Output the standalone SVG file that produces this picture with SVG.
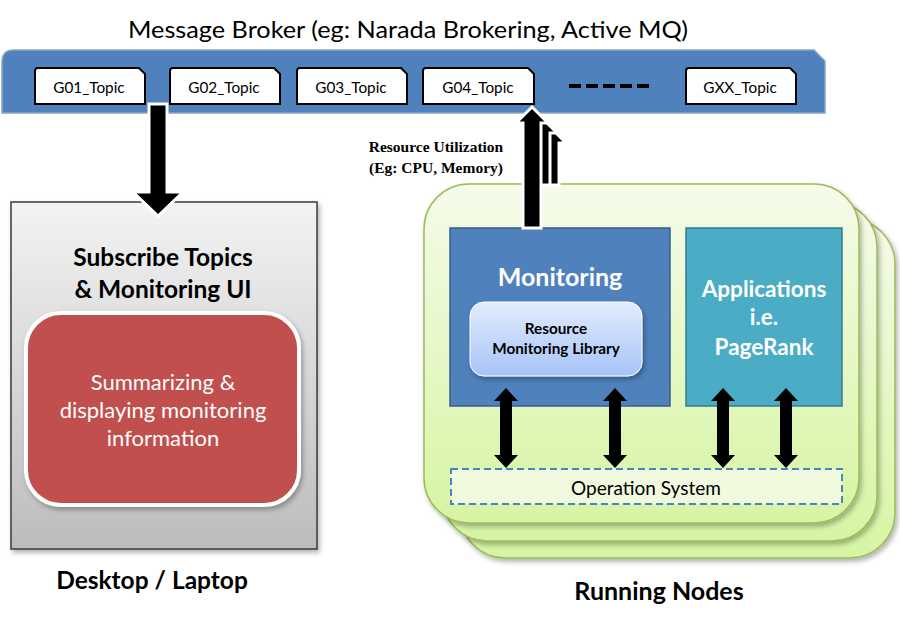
<svg xmlns="http://www.w3.org/2000/svg" width="900" height="622" viewBox="0 0 900 622">
<defs>
<linearGradient id="gDesk" x1="0" y1="0" x2="0" y2="1"><stop offset="0" stop-color="#f3f3f3"/><stop offset="1" stop-color="#bcbcbc"/></linearGradient>
<linearGradient id="gNode" x1="0" y1="0" x2="0" y2="1"><stop offset="0" stop-color="#f5fbea"/><stop offset="1" stop-color="#d6f5a3"/></linearGradient>
<linearGradient id="gLib" x1="0" y1="0" x2="0" y2="1"><stop offset="0" stop-color="#e2ecfd"/><stop offset="1" stop-color="#a6c3f7"/></linearGradient>
<filter id="sh" x="-10%" y="-10%" width="125%" height="125%"><feDropShadow dx="2" dy="3" stdDeviation="2.5" flood-color="#000" flood-opacity="0.3"/></filter>
</defs>
<style>
.sans{font-family:Lato,"Open Sans","Liberation Sans",sans-serif}
.topic{fill:#fff;stroke:#000;stroke-width:2}
.ttxt{font-family:Lato,"Open Sans","Liberation Sans",sans-serif;font-size:15.3px;text-anchor:middle;fill:#000}
.node{fill:url(#gNode);stroke:#9bbb59;stroke-width:1.5}
.arrow{fill:#000;stroke:#fff;stroke-width:3;stroke-linejoin:miter}
.darrow{fill:#000}
.bold{font-weight:bold}
</style>
<rect width="900" height="622" fill="#fff"/>

<g id="broker">
<text class="sans" x="408" y="38" font-size="24" text-anchor="middle" textLength="560" lengthAdjust="spacingAndGlyphs" fill="#000">Message Broker (eg: Narada Brokering, Active MQ)</text>
<path d="M2,62 Q2,50 14,50 L814,50 L825,61 L825,113 L2,113 Z" fill="#4f81bd" stroke="#8aa4c6" stroke-width="1.5"/>
<g id="topic-g01"><path class="topic" d="M38,68 L139,68 L145,74 L145,104 L35,104 L35,71 Q35,68 38,68 Z"/><text class="ttxt" x="89" y="93">G01_Topic</text></g>
<g id="topic-g02"><path class="topic" d="M173,68 L274,68 L280,74 L280,104 L170,104 L170,71 Q170,68 173,68 Z"/><text class="ttxt" x="224" y="93">G02_Topic</text></g>
<g id="topic-g03"><path class="topic" d="M300,68 L401,68 L407,74 L407,104 L297,104 L297,71 Q297,68 300,68 Z"/><text class="ttxt" x="351" y="93">G03_Topic</text></g>
<g id="topic-g04"><path class="topic" d="M426,68 L528,68 L534,74 L534,104 L423,104 L423,71 Q423,68 426,68 Z"/><text class="ttxt" x="478" y="93">G04_Topic</text></g>
<line x1="569" y1="86" x2="650" y2="86" stroke="#000" stroke-width="4" stroke-dasharray="12 5"/>
<g id="topic-gxx"><path class="topic" d="M689,68 L790,68 L796,74 L796,104 L686,104 L686,71 Q686,68 689,68 Z"/><text class="ttxt" x="740" y="93">GXX_Topic</text></g>
</g>

<g id="desktop">
<rect x="11" y="202" width="306" height="347" fill="url(#gDesk)" stroke="#3a3a3a" stroke-width="1.5" filter="url(#sh)"/>
<text class="sans bold" x="163" y="266" font-size="24.5" text-anchor="middle" fill="#000">Subscribe Topics</text>
<text class="sans bold" x="163" y="298" font-size="24.5" text-anchor="middle" fill="#000">&amp; Monitoring UI</text>
<g id="summary">
<rect x="26" y="313" width="273" height="192" rx="35" fill="#c0504d" stroke="#fff" stroke-width="4" filter="url(#sh)"/>
<text class="sans" x="163" y="390" font-size="22" text-anchor="middle" fill="#fff">Summarizing &amp;</text>
<text class="sans" x="163" y="418" font-size="22" text-anchor="middle" fill="#fff">displaying monitoring</text>
<text class="sans" x="163" y="446" font-size="22" text-anchor="middle" fill="#fff">information</text>
</g>
<text class="sans bold" x="152" y="589" font-size="24.5" text-anchor="middle" fill="#000">Desktop / Laptop</text>
</g>

<g id="running-nodes">
<rect class="node" x="460" y="219" width="435" height="339" rx="45" filter="url(#sh)"/>
<rect class="node" x="442" y="202" width="435" height="339" rx="45" filter="url(#sh)"/>
<rect class="node" x="424" y="184" width="435" height="339" rx="45" filter="url(#sh)"/>
<g id="monitoring">
<rect x="450" y="228" width="220" height="178" fill="#4f81bd" stroke="#385d8a" stroke-width="1.5"/>
<text class="sans bold" x="560" y="286" font-size="25" text-anchor="middle" fill="#fff">Monitoring</text>
</g>
<g id="library">
<rect x="470" y="302" width="172" height="74" rx="14" fill="url(#gLib)" stroke="#fff" stroke-width="1" filter="url(#sh)"/>
<text class="sans bold" x="556" y="334" font-size="15.3" text-anchor="middle" fill="#000">Resource</text>
<text class="sans bold" x="556" y="354" font-size="15.3" text-anchor="middle" fill="#000">Monitoring Library</text>
</g>
<g id="applications">
<rect x="686" y="228" width="156" height="178" fill="#4bacc6" stroke="#357d91" stroke-width="1.5"/>
<text class="sans bold" x="764" y="297" font-size="22.5" text-anchor="middle" fill="#fff">Applications</text>
<text class="sans bold" x="764" y="325" font-size="22.5" text-anchor="middle" fill="#fff">i.e.</text>
<text class="sans bold" x="764" y="355" font-size="22.5" text-anchor="middle" fill="#fff">PageRank</text>
</g>
<g id="os">
<rect x="451" y="469" width="391" height="35" fill="#f1fadf" stroke="#4f81bd" stroke-width="2" stroke-dasharray="7 4"/>
<text class="sans" x="646" y="495" font-size="19" text-anchor="middle" fill="#000">Operation System</text>
</g>
<text class="sans bold" x="659" y="600" font-size="25" text-anchor="middle" fill="#000">Running Nodes</text>
</g>

<g id="resource-label">
<text x="436" y="152" font-family="'Liberation Serif',serif" font-weight="bold" font-size="15.5" text-anchor="middle" fill="#000">Resource Utilization</text>
<text x="436" y="173" font-family="'Liberation Serif',serif" font-weight="bold" font-size="15.5" text-anchor="middle" fill="#000">(Eg: CPU, Memory)</text>
</g>

<g id="connectors">
<polygon class="arrow" points="550,127 566,143 559,143 559,185 541,185 541,143 534,143"/>
<polygon class="arrow" points="541,117 557,133 550,133 550,185 532,185 532,133 525,133"/>
<polygon class="arrow" points="532,107 548,123 541,123 541,228 523,228 523,123 516,123"/>
<polygon class="arrow" points="149,104 167,104 167,192 183,192 158,216 133,192 149,192"/>
<polygon class="darrow" points="506,388 518,401 512,401 512,455 518,455 506,468 494,455 500,455 500,401 494,401"/>
<polygon class="darrow" points="615,388 627,401 621,401 621,455 627,455 615,468 603,455 609,455 609,401 603,401"/>
<polygon class="darrow" points="723,388 735,401 729,401 729,455 735,455 723,468 711,455 717,455 717,401 711,401"/>
<polygon class="darrow" points="786,388 798,401 792,401 792,455 798,455 786,468 774,455 780,455 780,401 774,401"/>
</g>
</svg>
